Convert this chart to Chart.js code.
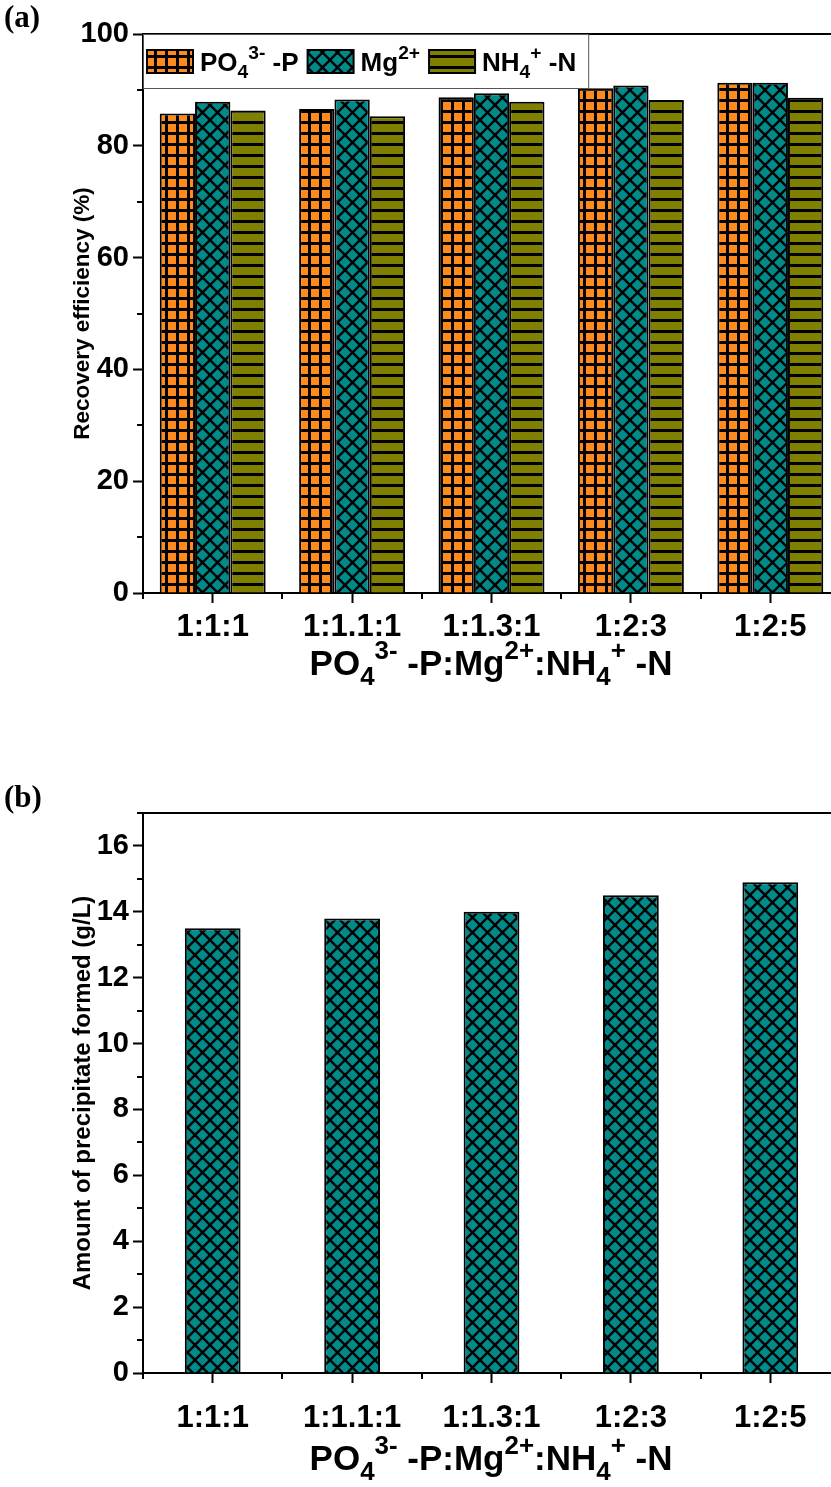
<!DOCTYPE html>
<html lang="en">
<head>
  <meta charset="UTF-8">
  <title>Struvite recovery</title>
  <style>
    html, body {
      margin: 0;
      padding: 0;
      background: #fff;
      overflow: hidden;
    }
    body {
      width: 831px;
      height: 1487px;
      position: relative;
    }
    canvas {
      position: absolute;
      left: 0;
    }
    #graficoA { top: 0; }
    #graficoB { top: 760px; }
  </style>
  <script src="https://cdn.jsdelivr.net/npm/chart.js"></script>
</head>
<body>

  <canvas id="graficoA" width="850" height="700"></canvas>
  <canvas id="graficoB" width="850" height="727"></canvas>

  <script>
    // datos
    const ratios = ['1:1:1', '1:1.1:1', '1:1.3:1', '1:2:3', '1:2:5'];
    const phosphate = [85.8, 86.6, 88.7, 90.3, 91.3];
    const magnesium = [87.9, 88.3, 89.4, 90.8, 91.3];
    const ammonium = [86.3, 85.3, 87.9, 88.2, 88.6];
    const precipitate = [13.5, 13.8, 14.0, 14.5, 14.9];

    const FAMILY = "'Liberation Sans', Arial, sans-serif";
    const SCRIPT = 0.74;   // tamaño relativo de sub/superindices

    // texto con sub/superindices
    const tituloX = [
      { t: 'PO' }, { t: '4', s: 'sub' }, { t: '3-', s: 'sup' }, { t: ' -P:Mg' },
      { t: '2+', s: 'sup' }, { t: ':NH' }, { t: '4', s: 'sub' }, { t: '+', s: 'sup' }, { t: ' -N' }
    ];
    const leyenda = [
      [{ t: 'PO' }, { t: '4', s: 'sub' }, { t: '3-', s: 'sup' }, { t: ' -P' }],
      [{ t: 'Mg' }, { t: '2+', s: 'sup' }],
      [{ t: 'NH' }, { t: '4', s: 'sub' }, { t: '+', s: 'sup' }, { t: ' -N' }]
    ];

    function font(size) {
      return 'bold ' + size + 'px ' + FAMILY;
    }

    function anchoRich(ctx, parts, size) {
      let w = 0;
      parts.forEach(p => {
        ctx.font = font(p.s ? size * SCRIPT : size);
        w += ctx.measureText(p.t).width;
      });
      return w;
    }

    function drawRich(ctx, parts, x, y, size, centrado) {
      const w = anchoRich(ctx, parts, size);
      ctx.save();
      ctx.translate(centrado ? x - w / 2 : x, y);
      ctx.fillStyle = '#000';
      ctx.textBaseline = 'alphabetic';
      ctx.textAlign = 'left';
      let cx = 0;
      parts.forEach(p => {
        ctx.font = font(p.s ? size * SCRIPT : size);
        const dy = p.s === 'sub' ? size * 0.28 : p.s === 'sup' ? -size * 0.45 : 0;
        ctx.fillText(p.t, cx, dy);
        cx += ctx.measureText(p.t).width;
      });
      ctx.restore();
      return w;
    }

    function patron(size, bg, dibujar) {
      const c = document.createElement('canvas');
      c.width = c.height = size;
      const g = c.getContext('2d');
      g.fillStyle = bg;
      g.fillRect(0, 0, size, size);
      g.fillStyle = '#000';
      g.strokeStyle = '#000';
      dibujar(g, size);
      return g.createPattern(c, 'repeat');
    }

    const patNaranja = patron(11, '#ff8a1c', (g, n) => {
      g.fillRect(0, 0, n, 3);
      g.fillRect(0, 0, 3, n);
    });
    const patTeal = patron(15, '#008b8b', (g, n) => {
      g.lineWidth = 2.4;
      g.beginPath();
      [-n, 0, n].forEach(o => {
        g.moveTo(o, 0); g.lineTo(o + n, n);
        g.moveTo(o + n, 0); g.lineTo(o, n);
      });
      g.stroke();
    });
    const patOliva = patron(11, '#808000', (g, n) => {
      g.fillRect(0, 0, n, 3);
    });

    // marco superior, ticks menores, etiquetas y titulos
    function plugDecor(cfg) {
      return {
        id: 'decor',
        afterDraw(chart) {
          const ctx = chart.ctx;
          const a = chart.chartArea;
          const xs = chart.scales.x;
          const ys = chart.scales.y;
          ctx.save();
          ctx.strokeStyle = '#000';
          ctx.lineWidth = 2;
          ctx.beginPath();
          ctx.moveTo(a.left - 1, a.top);
          ctx.lineTo(a.right, a.top);
          // ticks menores eje y
          ys.ticks.forEach(t => {
            if (t.value % cfg.major !== 0) {
              const py = Math.round(ys.getPixelForValue(t.value));
              ctx.moveTo(a.left, py);
              ctx.lineTo(a.left - 6, py);
            }
          });
          // ticks menores eje x en los limites de categoria
          const paso = xs.getPixelForTick(1) - xs.getPixelForTick(0);
          for (let i = 0; i <= ratios.length; i++) {
            const px = Math.round(xs.getPixelForTick(0) - paso / 2 + i * paso);
            ctx.moveTo(px, a.bottom);
            ctx.lineTo(px, a.bottom + 6);
          }
          ctx.stroke();

          // etiquetas de categoria
          ratios.forEach((r, i) => {
            drawRich(ctx, [{ t: r }], xs.getPixelForTick(i), cfg.tickY, cfg.tickSize, true);
          });
          // titulo eje x
          drawRich(ctx, tituloX, cfg.tituloXX, cfg.tituloXY, cfg.tituloXSize, true);

          // titulo eje y
          ctx.save();
          ctx.translate(cfg.tituloYX, (a.top + a.bottom) / 2);
          ctx.rotate(-Math.PI / 2);
          ctx.font = font(cfg.tituloYSize);
          ctx.textAlign = 'center';
          ctx.textBaseline = 'middle';
          ctx.fillStyle = '#000';
          ctx.fillText(cfg.tituloY, 0, 0);
          ctx.restore();

          // rotulo del panel
          ctx.font = "bold 31px 'Liberation Serif', 'Times New Roman', serif";
          ctx.textAlign = 'left';
          ctx.textBaseline = 'alphabetic';
          ctx.fillStyle = '#000';
          ctx.fillText(cfg.panel, 4, cfg.panelY);

          if (cfg.leyenda) dibujarLeyenda(ctx, a);
          ctx.restore();
        }
      };
    }

    function dibujarLeyenda(ctx, a) {
      const size = 26;
      const muestras = [patNaranja, patTeal, patOliva];
      const top = a.top, alto = 54;
      let x = a.left + 4;
      const pos = [];
      leyenda.forEach(parts => {
        pos.push(x);
        x += 46 + 7 + anchoRich(ctx, parts, size) + 9;
      });
      const ancho = x - a.left + 2;
      ctx.fillStyle = '#fff';
      ctx.fillRect(a.left + 1, top + 1, ancho, alto);
      ctx.strokeStyle = '#555';
      ctx.lineWidth = 1;
      ctx.strokeRect(a.left + 0.5, top + 0.5, ancho + 1, alto);
      leyenda.forEach((parts, i) => {
        const sx = pos[i];
        ctx.fillStyle = muestras[i];
        ctx.fillRect(sx, top + 16, 46, 23);
        ctx.strokeStyle = '#000';
        ctx.lineWidth = 2;
        ctx.strokeRect(sx, top + 16, 46, 23);
        drawRich(ctx, parts, sx + 53, top + 37, size, false);
      });
    }

    function ejes(max, paso, mayor, anchoY, altoX) {
      return {
        x: {
          offset: true,
          grid: { offset: false, drawOnChartArea: false, tickLength: 10, tickWidth: 2, tickColor: '#000' },
          border: { color: '#000', width: 2 },
          ticks: { color: 'rgba(0,0,0,0)', font: { family: FAMILY, size: 22, weight: 'bold' }, maxRotation: 0, autoSkip: false },
          afterFit: s => { s.height = altoX; }
        },
        y: {
          min: 0,
          max: max,
          grid: {
            drawOnChartArea: false, tickLength: 10, tickWidth: 2,
            tickColor: c => (c.tick && c.tick.value % mayor === 0) ? '#000' : 'rgba(0,0,0,0)'
          },
          border: { color: '#000', width: 2 },
          ticks: {
            stepSize: paso,
            autoSkip: false,
            color: '#000',
            padding: 4,
            font: { family: FAMILY, size: 29, weight: 'bold' },
            callback: v => (v % mayor === 0 ? v : '')
          },
          afterFit: s => { s.width = anchoY; }
        }
      };
    }

    new Chart(document.getElementById('graficoA'), {
      type: 'bar',
      data: {
        labels: ratios,
        datasets: [
          { label: 'PO4 3- -P', data: phosphate, backgroundColor: patNaranja },
          { label: 'Mg 2+', data: magnesium, backgroundColor: patTeal },
          { label: 'NH4 + -N', data: ammonium, backgroundColor: patOliva }
        ]
      },
      options: {
        responsive: false,
        animation: false,
        devicePixelRatio: 1,
        layout: { padding: { top: 34, right: 10, left: 0, bottom: 0 } },
        datasets: { bar: { categoryPercentage: 0.76, barPercentage: 1, borderColor: '#000', borderWidth: 2 } },
        plugins: { legend: { display: false }, tooltip: { enabled: false } },
        scales: ejes(100, 10, 20, 143, 107)
      },
      plugins: [plugDecor({
        major: 20, tickY: 636, tickSize: 31, tituloXX: 491, tituloXY: 675, tituloXSize: 35,
        tituloYX: 83, tituloYSize: 22.5, tituloY: 'Recovery efficiency (%)',
        panel: '(a)', panelY: 27, leyenda: true
      })]
    });

    new Chart(document.getElementById('graficoB'), {
      type: 'bar',
      data: {
        labels: ratios,
        datasets: [
          { label: 'Precipitate', data: precipitate, backgroundColor: patTeal }
        ]
      },
      options: {
        responsive: false,
        animation: false,
        devicePixelRatio: 1,
        layout: { padding: { top: 53, right: 10, left: 0, bottom: 0 } },
        datasets: { bar: { categoryPercentage: 0.4, barPercentage: 1, borderColor: '#000', borderWidth: 2 } },
        plugins: { legend: { display: false }, tooltip: { enabled: false } },
        scales: ejes(17, 1, 2, 143, 114)
      },
      plugins: [plugDecor({
        major: 2, tickY: 667, tickSize: 31, tituloXX: 491, tituloXY: 710, tituloXSize: 35,
        tituloYX: 83, tituloYSize: 24, tituloY: 'Amount of precipitate formed (g/L)',
        panel: '(b)', panelY: 47, leyenda: false
      })]
    });
  </script>
</body>
</html>
